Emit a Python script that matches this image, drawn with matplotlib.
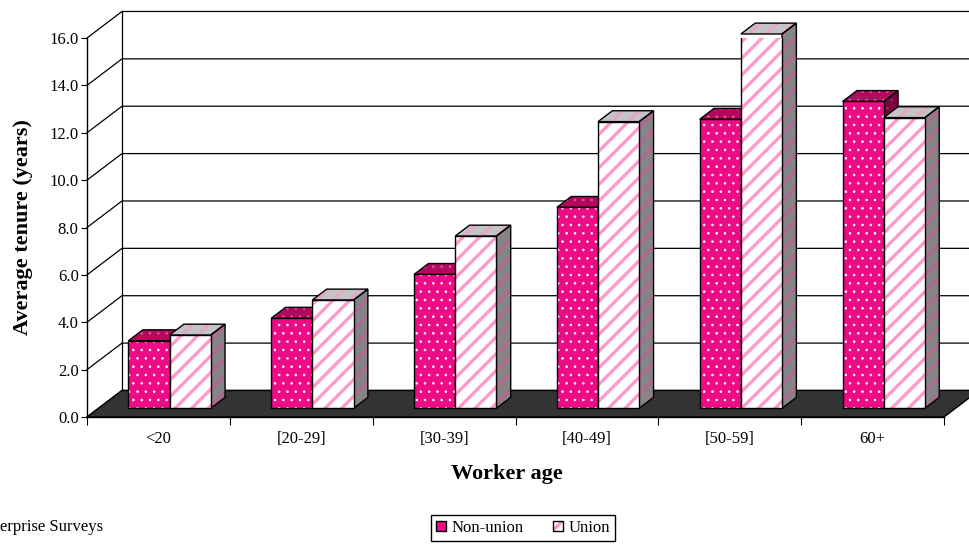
import numpy as np
import matplotlib.pyplot as plt
from matplotlib.patches import Polygon, Patch

categories = ['<20', '[20-29]', '[30-39]', '[40-49]', '[50-59]', '60+']
non_union = [2.85, 3.80, 5.65, 8.48, 12.2, 12.95]
union = [3.09, 4.57, 7.27, 12.1, 15.8, 12.27]
y_ticks = [0, 2, 4, 6, 8, 10, 12, 14, 16]

plt.rcParams['font.family'] = ['Liberation Serif', 'DejaVu Serif']
plt.rcParams['hatch.linewidth'] = 2.4

fig = plt.figure(figsize=(9.69, 5.44), dpi=100)
ax = fig.add_axes([87/969, 127/544, 857/969, 379/544])
ax.set_xlim(0, 6)
ax.set_ylim(0, 16)
ax.patch.set_visible(False)

DX, DY = 0.245, 1.12      # depth of the 3d box, data units
f0, f1 = 0.33, 0.74       # bar front / back depth (fraction of box)
bw = 0.288
ddx, ddy = (f1 - f0) * DX, (f1 - f0) * DY
base = f0 * DY
x = np.arange(len(categories))

# styles: front, top, side  (fill, hatch, hatch colour)
styles = [
    [('#EE0C86', '..', 'white'), ('#B4085E', '..', '#D8609A'), ('#7E0040', '..', '#A0306A')],
    [('white', '//', '#FF99CC'), ('#C4C4C4', '//', '#E4A8C8'), ('#858585', '//', '#B06890')],
]


def hatch_lw(p, h):
    if hasattr(p, 'set_hatch_linewidth'):
        p.set_hatch_linewidth(2.4 if '/' in h else 0.6)


def face(pts, st, z):
    fc, h, hc = st
    p = Polygon(pts, closed=True, facecolor=fc, edgecolor=hc, hatch=h, lw=0,
                clip_on=False, zorder=z)
    hatch_lw(p, h)
    ax.add_patch(p)
    ax.add_patch(Polygon(pts, closed=True, fill=False, edgecolor='black', lw=1,
                         clip_on=False, zorder=z + 0.01))


# back wall, gridlines and floor
for v in y_ticks:
    ax.plot([0, DX, 6 + DX + 0.3], [v, v + DY, v + DY], color='black', lw=0.9,
            clip_on=False, zorder=0.5)
ax.plot([DX, DX], [DY, 16 + DY], color='black', lw=0.9, clip_on=False, zorder=0.5)
ax.add_patch(Polygon([(0, 0), (6, 0), (6 + DX, DY), (DX, DY)], closed=True,
                     facecolor='#333333', edgecolor='black', lw=1, clip_on=False, zorder=1))

# bars
for i in x:
    for s, vals in enumerate([non_union, union]):
        v = vals[i]
        xf = i + 0.29 + s * bw
        z = 2 + i * 2 + s
        st = styles[s]
        face([(xf + bw, base), (xf + bw + ddx, base + ddy),
              (xf + bw + ddx, base + v + ddy), (xf + bw, base + v)], st[2], z)
        face([(xf, base + v), (xf + bw, base + v),
              (xf + bw + ddx, base + v + ddy), (xf + ddx, base + v + ddy)], st[1], z)
        b = ax.bar(xf, v, bw, bottom=base, align='edge', color=st[0][0],
                   hatch=st[0][1], edgecolor=st[0][2], lw=0, zorder=z + 0.5)
        hatch_lw(b[0], st[0][1])
        ax.bar(xf, v, bw, bottom=base, align='edge', fill=False,
               edgecolor='black', lw=1, zorder=z + 0.51)

# axes
for sp in ['top', 'right']:
    ax.spines[sp].set_visible(False)
ax.spines['left'].set_linewidth(1)
ax.spines['bottom'].set_linewidth(1)
ax.spines['left'].set_zorder(1.5)
ax.spines['bottom'].set_zorder(1.5)
ax.set_yticks(y_ticks)
ax.set_yticklabels(['%.1f' % t for t in y_ticks], fontsize=12)
ax.tick_params(axis='y', direction='out', length=4, width=0.8, pad=2)
ax.set_xticks(np.arange(len(categories) + 1))
ax.set_xticklabels([])
ax.tick_params(axis='x', which='major', direction='out', length=6, width=0.8)
ax.set_xticks(x + 0.5, minor=True)
ax.set_xticklabels(categories, minor=True, fontsize=12)
ax.tick_params(axis='x', which='minor', length=0, pad=10)

ax.set_ylabel('Average tenure (years)', fontsize=16, fontweight='bold')
ax.yaxis.set_label_coords(-0.063, 0.5)
ax.set_xlabel('Worker age', fontsize=16, fontweight='bold')
ax.xaxis.set_label_coords(0.49, -0.125)

# legend
h_non = (Patch(facecolor='#EE0C86', edgecolor='black', lw=1),)
h_uni_fill = Patch(facecolor='white', edgecolor='#FF99CC', hatch='//', lw=0)
h_uni = (h_uni_fill, Patch(fill=False, edgecolor='black', lw=1))
leg = fig.legend([h_non, h_uni], ['Non-union', 'Union'], loc='upper center',
                 bbox_to_anchor=(523/969, 1 - 515/544), ncol=2, fontsize=12,
                 frameon=True, fancybox=False, edgecolor='black', framealpha=1,
                 handlelength=0.6, handleheight=0.6, handletextpad=0.3,
                 columnspacing=1.8, borderpad=0.3, borderaxespad=0)
leg.get_frame().set_linewidth(1)

fig.text(0, 1 - 527/544, 'erprise Surveys', fontsize=12, ha='left', va='center')

fig.savefig('out.png', dpi=100)
